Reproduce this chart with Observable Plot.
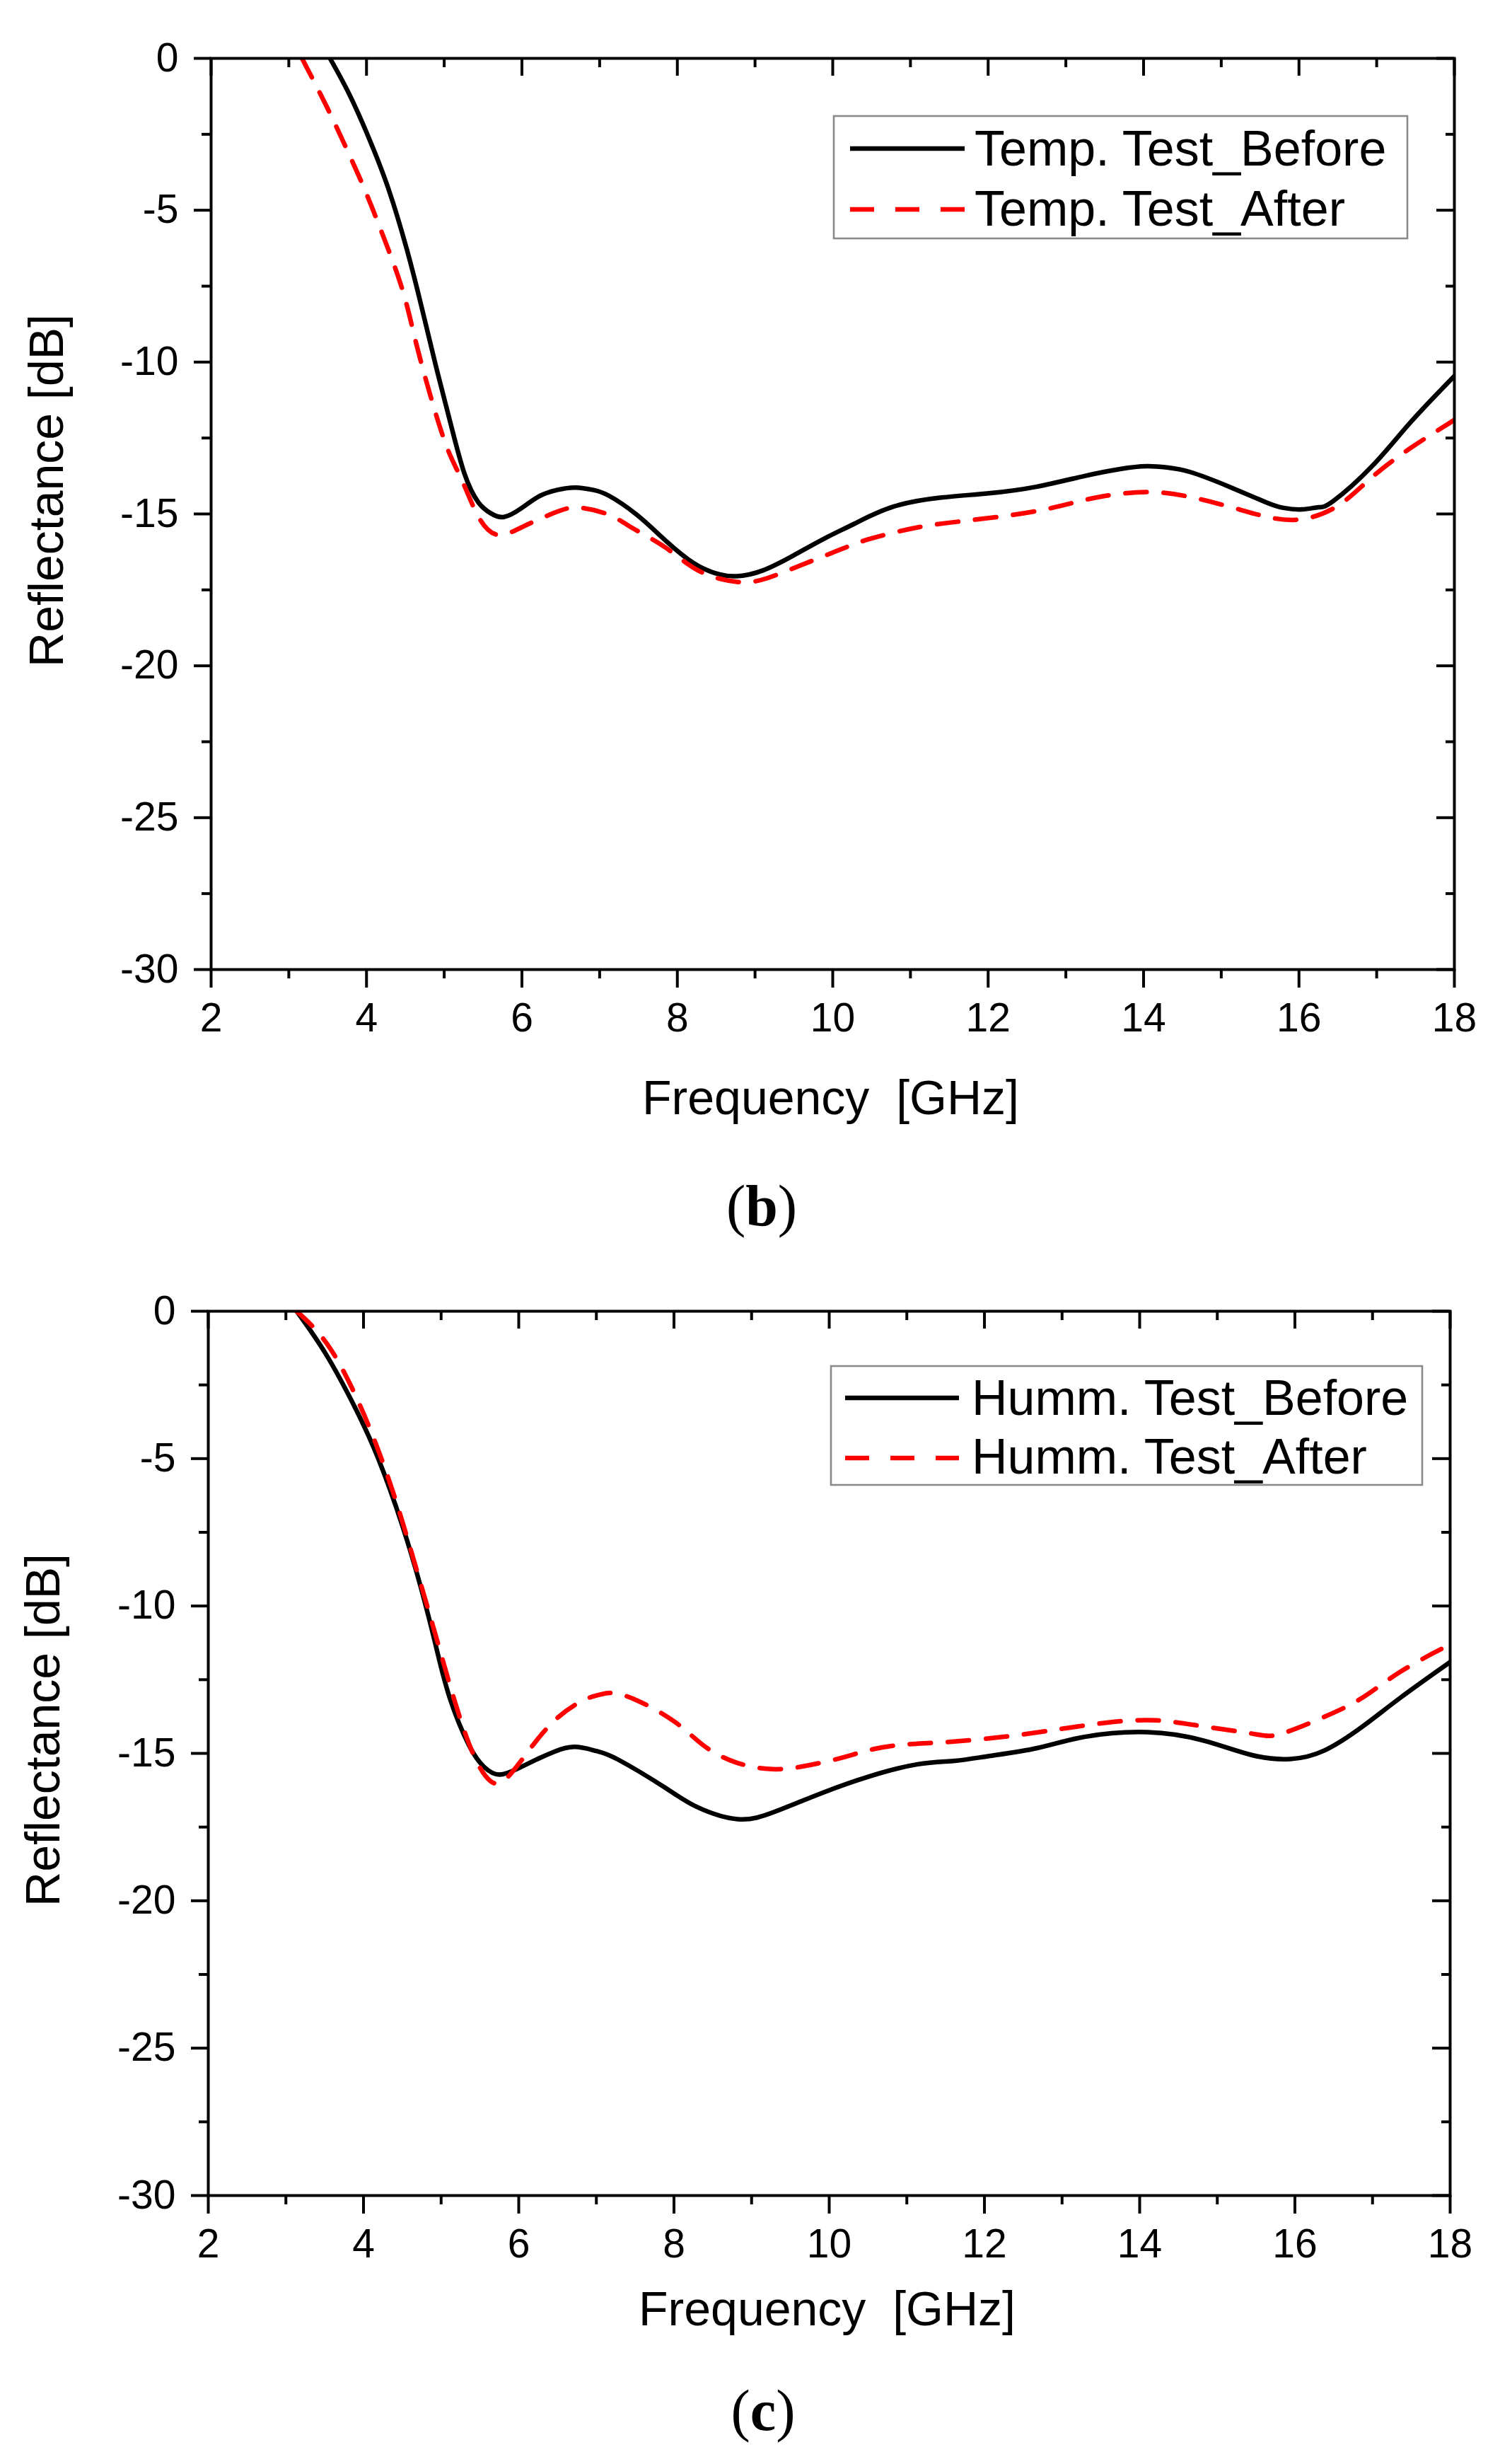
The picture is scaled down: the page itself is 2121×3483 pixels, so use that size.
<!DOCTYPE html>
<html>
<head>
<meta charset="utf-8">
<script src="https://cdn.jsdelivr.net/npm/d3@7"></script>
<script src="https://cdn.jsdelivr.net/npm/@observablehq/plot@0.6"></script>
<style>
  body { margin: 0; background: #fff; }
  #page { position: relative; width: 2121px; height: 3483px; background: #fff; overflow: hidden; }
  .chart { position: absolute; left: 0; }
  .caption { position: absolute; width: 400px; text-align: center; font-family: "Liberation Serif", "Times New Roman", serif; font-size: 82px; line-height: 100px; color: #000; }
  .caption b { font-weight: bold; }
</style>
</head>
<body>
<div id="page"></div>
<script>
// ---------- tick values ----------
const xMajorTicks = [2, 4, 6, 8, 10, 12, 14, 16, 18];
const xMinorTicks = [3, 5, 7, 9, 11, 13, 15, 17];
const yMajorTicks = [0, -5, -10, -15, -20, -25, -30];
const yMinorTicks = [-2.5, -7.5, -12.5, -17.5, -22.5, -27.5];

const xTitle = "Frequency  [GHz]";
const yTitle = "Reflectance [dB]";

// ---------- (b) temperature test ----------
const tempBeforeLabel = "Temp. Test_Before";
const tempBeforeFreq = [3.53, 3.78, 4.03, 4.28, 4.52, 4.71, 4.89, 5.08, 5.26, 5.44, 5.60, 5.77, 6.00, 6.22, 6.45, 6.69, 6.92, 7.12, 7.48, 7.85, 8.21, 8.50, 8.76, 9.10, 9.50, 9.90, 10.28, 10.78, 11.40, 12.01, 12.63, 13.24, 13.70, 14.04, 14.30, 14.60, 15.09, 15.58, 15.80, 16.04, 16.25, 16.44, 16.94, 17.43, 18.0];
const tempBeforeDb   = [0, -1.19, -2.62, -4.28, -6.30, -8.20, -10.10, -12.0, -13.67, -14.62, -14.98, -15.10, -14.80, -14.42, -14.21, -14.13, -14.21, -14.40, -15.03, -15.88, -16.62, -16.96, -17.05, -16.86, -16.36, -15.80, -15.32, -14.76, -14.46, -14.32, -14.10, -13.75, -13.52, -13.43, -13.47, -13.62, -14.09, -14.62, -14.80, -14.85, -14.78, -14.58, -13.43, -12.0, -10.46];

const tempAfterLabel = "Temp. Test_After";
const tempAfterFreq = [3.17, 3.48, 3.72, 3.97, 4.21, 4.46, 4.64, 4.83, 5.04, 5.23, 5.44, 5.69, 6.02, 6.43, 6.73, 7.12, 7.44, 7.85, 8.29, 8.78, 9.15, 9.59, 10.08, 10.48, 10.98, 11.46, 12.32, 12.94, 13.43, 14.04, 14.60, 15.16, 15.58, 16.01, 16.50, 16.94, 17.43, 17.86, 18.0];
const tempAfterDb   = [0, -1.55, -2.85, -4.28, -5.82, -7.60, -9.39, -11.17, -12.84, -13.90, -15.09, -15.69, -15.41, -14.95, -14.79, -15.03, -15.49, -16.11, -16.89, -17.24, -17.12, -16.69, -16.19, -15.82, -15.50, -15.30, -15.03, -14.73, -14.44, -14.28, -14.44, -14.80, -15.09, -15.18, -14.73, -13.79, -12.84, -12.13, -11.90];

// ---------- (c) humidity test ----------
const hummBeforeLabel = "Humm. Test_Before";
const hummBeforeFreq = [3.14, 3.51, 3.88, 4.19, 4.50, 4.74, 4.93, 5.11, 5.36, 5.55, 5.75, 6.00, 6.22, 6.45, 6.72, 7.00, 7.28, 7.89, 8.29, 8.82, 9.31, 9.92, 10.53, 11.14, 11.62, 12.06, 12.68, 13.29, 14.10, 14.83, 15.45, 15.94, 16.38, 16.87, 17.36, 18.0];
const hummBeforeDb   = [0, -1.43, -3.21, -5.0, -7.27, -9.38, -11.33, -13.11, -14.73, -15.45, -15.72, -15.50, -15.22, -14.95, -14.78, -14.92, -15.21, -16.17, -16.81, -17.23, -16.97, -16.33, -15.77, -15.37, -15.25, -15.09, -14.82, -14.44, -14.28, -14.57, -15.06, -15.19, -14.90, -14.09, -13.11, -11.90];

const hummAfterLabel = "Humm. Test_After";
const hummAfterFreq = [3.14, 3.57, 4.01, 4.38, 4.68, 4.93, 5.18, 5.42, 5.64, 5.86, 6.18, 6.51, 6.84, 7.04, 7.21, 7.53, 8.01, 8.38, 8.78, 9.23, 9.64, 10.13, 10.58, 11.02, 11.55, 12.33, 12.99, 13.60, 14.22, 14.83, 15.45, 15.80, 16.38, 16.87, 17.36, 17.92, 18.0];
const hummAfterDb   = [0, -1.26, -3.53, -6.13, -8.73, -11.0, -13.27, -15.06, -15.95, -15.80, -14.73, -13.77, -13.19, -13.01, -12.95, -13.21, -13.93, -14.73, -15.29, -15.53, -15.45, -15.17, -14.85, -14.69, -14.61, -14.41, -14.17, -13.95, -13.88, -14.09, -14.33, -14.35, -13.76, -13.11, -12.23, -11.41, -11.30];

const toRows = (fs, vs) => fs.map((f, i) => ({f, db: vs[i]}));

const FONT = '"Liberation Sans", Arial, Helvetica, sans-serif';
const DASH = "30,24";
const LINE_W = 6.5;

function buildChart(cfg) {
  const W = 2121;
  const plotW = W - cfg.ml - cfg.mr;
  const plotH = cfg.height - cfg.mt - cfg.mb;
  const before = toRows(cfg.beforeF, cfg.beforeV);
  const after = toRows(cfg.afterF, cfg.afterV);
  const svg = Plot.plot({
    width: W,
    height: cfg.height,
    marginTop: cfg.mt,
    marginLeft: cfg.ml,
    marginRight: cfg.mr,
    marginBottom: cfg.mb,
    style: {fontFamily: FONT, fontSize: "57px", background: "white", color: "black", overflow: "visible"},
    x: {domain: [2, 18]},
    y: {domain: [-30, 0]},
    marks: [
      Plot.line(before, {x: "f", y: "db", stroke: "#000", strokeWidth: LINE_W, curve: "natural", clip: true}),
      Plot.line(after, {x: "f", y: "db", stroke: "#ff0000", strokeWidth: LINE_W, strokeDasharray: DASH, curve: "natural", clip: true}),
      // bottom axis (outward ticks)
      Plot.axisX(xMajorTicks, {anchor: "bottom", tickSize: 26, tickPadding: 21, strokeWidth: 4, fontSize: 57, tickFormat: d => String(d), label: null}),
      Plot.axisX(xMinorTicks, {anchor: "bottom", tickSize: 13, strokeWidth: 4, tickFormat: () => "", label: null}),
      // left axis (outward ticks)
      Plot.axisY(yMajorTicks, {anchor: "left", tickSize: 24, tickPadding: 22, strokeWidth: 4, fontSize: 57, tickFormat: d => String(d), label: null}),
      Plot.axisY(yMinorTicks, {anchor: "left", tickSize: 13, strokeWidth: 4, tickFormat: () => "", label: null}),
      // top mirrored ticks (inward)
      Plot.tickX(xMajorTicks, {x: d => d, insetBottom: plotH - 25, stroke: "#000", strokeWidth: 4}),
      Plot.tickX(xMinorTicks, {x: d => d, insetBottom: plotH - 13, stroke: "#000", strokeWidth: 4}),
      // right mirrored ticks (inward)
      Plot.tickY(yMajorTicks, {y: d => d, insetLeft: plotW - 25, stroke: "#000", strokeWidth: 4}),
      Plot.tickY(yMinorTicks, {y: d => d, insetLeft: plotW - 12, stroke: "#000", strokeWidth: 4}),
      Plot.frame({stroke: "#000", strokeWidth: 4}),
      // axis titles
      Plot.text([yTitle], {frameAnchor: "left", text: d => d, rotate: -90, dx: cfg.yTitleDx, dy: -33, fontSize: 68, textAnchor: "middle", lineAnchor: "middle", fill: "#000"}),
      Plot.text([xTitle], {frameAnchor: "bottom", text: d => d, dx: -3, dy: cfg.xTitleDy, fontSize: 68, textAnchor: "middle", lineAnchor: "middle", fill: "#000"})
    ]
  });

  // legend box (drawn inside the same SVG, on top)
  const L = cfg.legend;
  const g = d3.select(svg).append("g").attr("class", "legend").attr("text-anchor", "start");
  g.append("rect")
    .attr("x", L.x0).attr("y", L.y0 - cfg.top)
    .attr("width", L.x1 - L.x0).attr("height", L.y1 - L.y0)
    .attr("fill", "#fff").attr("stroke", "#8a8a8a").attr("stroke-width", 2.6);
  const entries = [
    {label: cfg.beforeLabel, color: "#000", dash: null, ly: L.rows[0], ty: L.base[0]},
    {label: cfg.afterLabel, color: "#ff0000", dash: "34,30", ly: L.rows[1], ty: L.base[1]}
  ];
  for (const e of entries) {
    g.append("line")
      .attr("x1", L.lx0).attr("x2", L.lx1)
      .attr("y1", e.ly - cfg.top).attr("y2", e.ly - cfg.top)
      .attr("stroke", e.color).attr("stroke-width", LINE_W)
      .attr("stroke-dasharray", e.dash);
    g.append("text")
      .attr("x", L.tx).attr("y", e.ty - cfg.top)
      .attr("text-anchor", "start")
      .attr("font-family", FONT).attr("font-size", 70).attr("fill", "#000")
      .text(e.label);
  }

  svg.classList.add("chart");
  svg.style.position = "absolute";
  svg.style.left = "0px";
  svg.style.top = cfg.top + "px";
  return svg;
}

const page = document.getElementById("page");

page.appendChild(buildChart({
  top: 0, height: 1640, mt: 82, ml: 298, mr: 65, mb: 270,
  beforeF: tempBeforeFreq, beforeV: tempBeforeDb, beforeLabel: tempBeforeLabel,
  afterF: tempAfterFreq, afterV: tempAfterDb, afterLabel: tempAfterLabel,
  yTitleDx: -231, xTitleDy: 183,
  legend: {x0: 1179, x1: 1990, y0: 164, y1: 337, lx0: 1202, lx1: 1364, tx: 1378, rows: [210, 296], base: [234, 319]}
}));

page.appendChild(buildChart({
  top: 1760, height: 1573, mt: 93, ml: 294, mr: 71, mb: 230,
  beforeF: hummBeforeFreq, beforeV: hummBeforeDb, beforeLabel: hummBeforeLabel,
  afterF: hummAfterFreq, afterV: hummAfterDb, afterLabel: hummAfterLabel,
  yTitleDx: -232, xTitleDy: 162,
  legend: {x0: 1175, x1: 2011, y0: 1931, y1: 2099, lx0: 1195, lx1: 1356, tx: 1374, rows: [1976, 2061], base: [2000, 2083]}
}));

// figure captions
function caption(letter, cx, cy) {
  const d = document.createElement("div");
  d.className = "caption";
  d.style.left = (cx - 200) + "px";
  d.style.top = (cy - 56) + "px";
  d.innerHTML = "(<b>" + letter + "</b>)";
  page.appendChild(d);
}
caption("b", 1077, 1711);
caption("c", 1079, 3414);
</script>
</body>
</html>
